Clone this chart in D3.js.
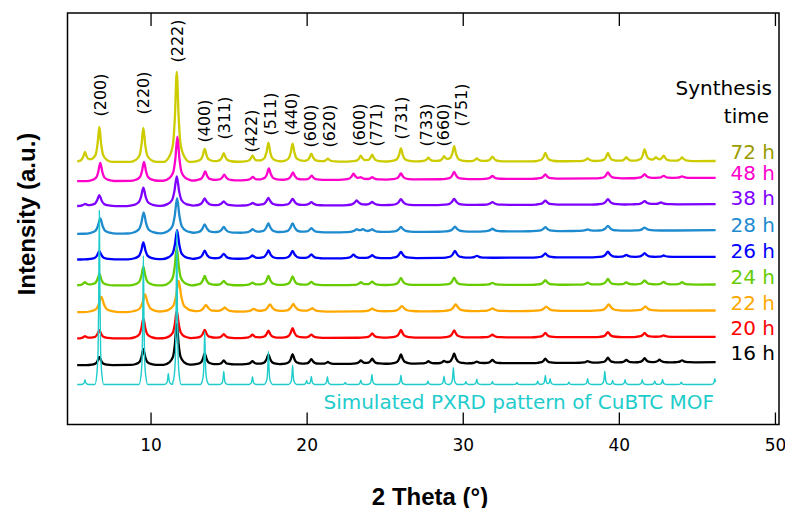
<!DOCTYPE html>
<html>
<head>
<meta charset="utf-8">
<script src="https://cdn.jsdelivr.net/npm/d3@7"></script>
<style>
  body { margin: 0; background: #fff; }
  text { font-family: "DejaVu Sans", sans-serif; }
</style>
</head>
<body>
<svg id="chart" width="785" height="508"></svg>
<script>
// series, top to bottom (drawn in this order, simulated pattern last)
var seriesNames = ["72 h", "48 h", "38 h", "28 h", "26 h", "24 h", "22 h", "20 h", "16 h", "Simulated PXRD pattern of CuBTC MOF"];

// baseline offset of each trace (a.u.) at the first and last 2theta
var baseLeft  = [262.5, 243.3, 218.3, 190.7, 165, 139, 112.3, 86, 59.3, 40];
var baseRight = [263.5, 246.7, 220.3, 194.3, 167.7, 140, 114, 87.7, 62.3, 40];

// peak width (FWHM, degrees) of each trace
var fwhm = [0.24, 0.26, 0.3, 0.3, 0.28, 0.26, 0.34, 0.26, 0.24, 0.08];

// [2theta, height]
var peaks72 = [[5.8, 10], [6.72, 35], [9.54, 34], [11.68, 90], [13.47, 13], [14.69, 8.5], [16.53, 6], [17.55, 19], [19.1, 18], [20.3, 8], [21.36, 3], [23.47, 5.7], [24.2, 6.7], [26.04, 13], [27.8, 3.7], [28.8, 4.7], [29.45, 15], [30.9, 3], [31.9, 4.7], [35.29, 8.3], [38.0, 2.7], [39.3, 8.3], [40.48, 4], [41.65, 11.7], [42.38, 3.3], [42.87, 5.3], [44.05, 3.7]];
var peaks48 = [[6.78, 18.3], [9.58, 19], [11.72, 44], [13.5, 9], [14.72, 5.7], [16.55, 3.3], [17.58, 11.7], [19.12, 7.7], [20.32, 4.3], [23.0, 6], [23.47, 2], [24.2, 2.3], [26.04, 6], [29.45, 7.3], [31.9, 3], [35.29, 4.3], [39.3, 6], [41.65, 4], [42.87, 2.3], [44.05, 1.7]];
var peaks38 = [[5.8, 2], [6.72, 11], [9.54, 18.3], [11.68, 29.5], [13.47, 7.3], [14.69, 4.3], [16.53, 2.7], [17.55, 7.7], [19.1, 6.7], [20.3, 3.3], [23.2, 5], [24.2, 3.3], [26.04, 6], [29.45, 6], [31.9, 2.7], [35.29, 4], [39.3, 5.3], [41.65, 3.3], [42.7, 2]];
var peaks28 = [[6.78, 15.3], [9.56, 21], [11.7, 35], [13.47, 8.7], [14.69, 6], [16.53, 3.7], [17.55, 9.3], [19.1, 9.3], [20.3, 4.3], [23.2, 2.7], [23.6, 2.5], [24.2, 2.7], [26.04, 5], [29.5, 5], [31.9, 2.7], [35.29, 4], [38.0, 1.5], [39.3, 5], [41.65, 3]];
var peaks26 = [[6.72, 8.3], [9.54, 16.7], [11.7, 29], [13.47, 8.3], [14.69, 5], [16.53, 3.3], [17.55, 8.3], [19.1, 7.7], [20.3, 4], [23.0, 3.7], [24.2, 3], [26.04, 6.3], [29.5, 7], [30.9, 2], [35.29, 4], [39.3, 5.7], [40.48, 2.3], [41.65, 4], [42.87, 1.5]];
var peaks24 = [[5.8, 3.3], [6.72, 11.7], [9.54, 18.7], [11.68, 38], [13.47, 9.3], [14.69, 4.3], [16.53, 2.7], [17.55, 9.3], [19.1, 8.7], [20.3, 3.3], [23.47, 2.7], [24.2, 3.3], [26.04, 7], [29.45, 7.3], [31.9, 2], [35.29, 4.7], [38.0, 2], [39.3, 5.7], [40.48, 2.3], [41.65, 4.3], [42.87, 2.7], [44.05, 2.3]];
var peaks22 = [[6.85, 15.3], [9.65, 17.7], [11.8, 31], [13.55, 7], [14.75, 4.3], [16.6, 2.7], [17.65, 7.3], [19.15, 7.7], [20.35, 3.3], [24.2, 2.7], [26.1, 5.3], [29.55, 6.7], [31.9, 2.7], [35.35, 4.3], [39.35, 6.3], [41.7, 4]];
var peaks20 = [[5.8, 2.3], [6.72, 8.3], [9.54, 19.7], [11.68, 27.3], [13.47, 8.3], [14.69, 4], [16.53, 3.3], [17.55, 7.3], [19.1, 9.7], [20.3, 3.3], [24.2, 4.3], [26.04, 7.7], [29.45, 7], [31.9, 2.7], [35.29, 4.3], [39.3, 5], [41.65, 4], [42.87, 1.5]];
var peaks16 = [[6.72, 8.3], [9.54, 15.7], [11.68, 40.7], [13.47, 11.3], [14.69, 4], [16.53, 3.3], [17.55, 10], [19.1, 10], [20.3, 5], [21.36, 2], [23.47, 3.3], [24.2, 5], [26.04, 9.3], [27.8, 2.3], [28.8, 2.3], [29.45, 10], [30.9, 1.7], [31.9, 3.3], [35.29, 4.3], [38.0, 1.7], [39.3, 5], [40.48, 2.7], [41.65, 4.3], [42.6, 2.7], [44.05, 2]];
var peaksSim = [[5.8, 4.7], [6.72, 174], [9.54, 129], [11.14, 11], [11.68, 154], [13.47, 53], [14.69, 13], [16.53, 7.7], [17.55, 33], [19.1, 19], [20.0, 4], [20.3, 8], [21.33, 7.7], [22.47, 2], [23.47, 4.3], [24.18, 10], [26.04, 9.3], [27.77, 3.3], [28.8, 8.3], [29.4, 16.7], [30.2, 2.7], [30.9, 5.3], [31.9, 2.7], [33.47, 2], [34.8, 3.3], [35.29, 9], [35.6, 5.7], [36.8, 2.3], [38.0, 5.7], [39.1, 13.3], [39.6, 4], [40.4, 4.7], [41.5, 4.7], [42.3, 3.3], [42.8, 5], [44.0, 2.3], [46.15, 5.7]];
var seriesPeaks = [peaks72, peaks48, peaks38, peaks28, peaks26, peaks24, peaks22, peaks20, peaks16, peaksSim];

// 2theta range of the scans
var scanStart = 5.3, scanEnd = 46.2;

// reflection labels: text, 2theta, height where the label ends (a.u.)
var hklText = ["(200)", "(220)", "(222)", "(400)", "(311)", "(422)", "(511)", "(440)", "(600)", "(620)", "(600)", "(771)", "(731)", "(733)", "(660)", "(751)"];
var hklPos  = [6.77, 9.54, 11.72, 13.45, 14.73, 16.49, 17.7, 19.05, 20.27, 21.46, 23.38, 24.5, 26.1, 27.66, 28.77, 29.9];
var hklEnd  = [308, 310, 362, 282, 285, 272, 289, 289, 277, 277, 278, 278, 285, 278, 278, 298];

var xTicks = [10, 20, 30, 40, 50];

// Lorentz-like peak template (offset in FWHM, fraction of height)
var tplOffset = [-3.5, -2, -1, -0.5, 0, 0.5, 1, 2, 3.5];
var tplFrac   = [0, 0.06, 0.2, 0.5, 1, 0.5, 0.2, 0.06, 0];

var lineColors  = ["#cccc00", "#ff00cc", "#7f00ff", "#1e8bcf", "#0000ff", "#66cc00", "#ffa800", "#ff0000", "#000000", "#1ecccc"];
var labelColors = ["#9c9c00", "#ff00cc", "#7f00ff", "#1e8bcf", "#0000ff", "#66cc00", "#ffa800", "#ff0000", "#000000", "#1ecccc"];
// how far each right-hand label sits above the end of its trace (px)
var labelLift = [9.5, 5, 6, 5, 6, 8, 8, 8.5, 9];

var svg = d3.select("#chart");
var plotL = 67.5, plotR = 779, plotT = 13, plotB = 424.5;

var x = d3.scaleLinear().domain([4.68, 50.26]).range([plotL, plotR]);
var y = d3.scaleLinear().domain([0, 411.5]).range([plotB, plotT]);

function tplAt(t) {
    var n = tplOffset.length;
    if (t <= tplOffset[0] || t >= tplOffset[n - 1]) return 0;
    var i = d3.bisectRight(tplOffset, t) - 1;
    var f = (t - tplOffset[i]) / (tplOffset[i + 1] - tplOffset[i]);
    return tplFrac[i] + f * (tplFrac[i + 1] - tplFrac[i]);
}

// points of a trace: the scan ends plus template points round every peak
function tracePoints(pk, w, b0, b1) {
    var xs = [scanStart, scanEnd];
    pk.forEach(function (p) {
        tplOffset.forEach(function (o) {
            var v = p[0] + o * w;
            if (v > scanStart && v < scanEnd) xs.push(v);
        });
    });
    xs.sort(d3.ascending);
    return xs.map(function (xv) {
        var b = b0 + (b1 - b0) * (xv - scanStart) / (scanEnd - scanStart);
        var s = 0;
        pk.forEach(function (p) { s += p[1] * tplAt((xv - p[0]) / w); });
        return [xv, b + s];
    });
}

var line = d3.line()
    .x(function (d) { return x(d[0]); })
    .y(function (d) { return y(d[1]); })
    .curve(d3.curveMonotoneX);

svg.append("clipPath").attr("id", "clip")
    .append("rect").attr("x", plotL).attr("y", plotT)
    .attr("width", plotR - plotL).attr("height", plotB - plotT);

var traces = svg.append("g").attr("clip-path", "url(#clip)");
seriesPeaks.forEach(function (pk, i) {
    traces.append("path")
        .attr("d", line(tracePoints(pk, fwhm[i], baseLeft[i], baseRight[i])))
        .attr("fill", "none")
        .attr("stroke", lineColors[i])
        .attr("stroke-width", i == 9 ? 1.4 : 2.3)
        .attr("stroke-linejoin", "round");
});

// axes: ticks point inward, labels only on the bottom
var bottomAxis = svg.append("g")
    .attr("transform", "translate(0," + plotB + ")")
    .call(d3.axisBottom(x).tickValues(xTicks).tickSize(-12).tickPadding(14));
var topAxis = svg.append("g")
    .attr("transform", "translate(0," + plotT + ")")
    .call(d3.axisTop(x).tickValues(xTicks).tickSize(-13).tickFormat(""));
[bottomAxis, topAxis].forEach(function (g) {
    g.select(".domain").remove();
    g.selectAll(".tick line").attr("stroke", "#000").attr("stroke-width", 1.3);
});
bottomAxis.selectAll(".tick text")
    .attr("fill", "#000")
    .style("font-family", "DejaVu Sans")
    .style("font-size", "17px");

svg.append("rect")
    .attr("x", plotL).attr("y", plotT)
    .attr("width", plotR - plotL).attr("height", plotB - plotT)
    .attr("fill", "none").attr("stroke", "#000").attr("stroke-width", 1.5);

// reflection labels, rotated
hklText.forEach(function (t, i) {
    svg.append("text")
        .attr("transform", "translate(" + x(hklPos[i]) + "," + y(hklEnd[i]) + ") rotate(-90)")
        .attr("dominant-baseline", "central")
        .style("font-size", "16px")
        .attr("fill", "#000")
        .text(t);
});

// right-hand labels, just above the end of each trace
seriesNames.slice(0, 9).forEach(function (name, i) {
    svg.append("text")
        .attr("x", 775)
        .attr("y", y(baseRight[i]) - labelLift[i])
        .attr("text-anchor", "end")
        .attr("dominant-baseline", "central")
        .style("font-size", "20px")
        .attr("fill", labelColors[i])
        .text(name);
});

svg.append("text").attr("x", 772).attr("y", 88)
    .attr("text-anchor", "end").attr("dominant-baseline", "central")
    .style("font-size", "20px").text("Synthesis");
svg.append("text").attr("x", 769).attr("y", 116)
    .attr("text-anchor", "end").attr("dominant-baseline", "central")
    .style("font-size", "20px").text("time");

svg.append("text").attr("x", 714).attr("y", 402)
    .attr("text-anchor", "end").attr("dominant-baseline", "central")
    .style("font-size", "20px").attr("fill", labelColors[9])
    .text(seriesNames[9]);

// axis titles
svg.append("text").attr("x", 430).attr("y", 496)
    .attr("text-anchor", "middle").attr("dominant-baseline", "central")
    .style("font-family", "Liberation Sans").style("font-weight", "bold").style("font-size", "24px")
    .text("2 Theta (°)");
svg.append("text")
    .attr("transform", "translate(26,214) rotate(-90)")
    .attr("text-anchor", "middle").attr("dominant-baseline", "central")
    .style("font-family", "Liberation Sans").style("font-weight", "bold").style("font-size", "24px")
    .text("Intensity (a.u.)");
</script>
</body>
</html>
